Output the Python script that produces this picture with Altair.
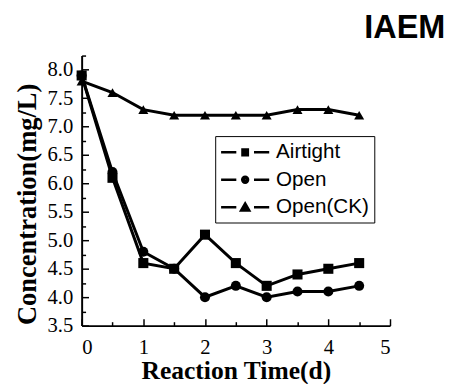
import altair as alt
import pandas as pd

# ---- data ----
time = [0, 0.5, 1, 1.5, 2, 2.5, 3, 3.5, 4, 4.5]
airtight = [7.9, 6.1, 4.6, 4.5, 5.1, 4.6, 4.2, 4.4, 4.5, 4.6]
open_air = [7.9, 6.2, 4.8, 4.5, 4.0, 4.2, 4.0, 4.1, 4.1, 4.2]
open_ck = [7.8, 7.6, 7.3, 7.2, 7.2, 7.2, 7.2, 7.3, 7.3, 7.2]
series_names = ["Airtight", "Open", "Open(CK)"]
marker_shapes = ["square", "circle", "triangle-up"]
x_major = [0, 1, 2, 3, 4, 5]
x_minor = [0.5, 1.5, 2.5, 3.5, 4.5]
y_major = [3.5, 4.0, 4.5, 5.0, 5.5, 6.0, 6.5, 7.0, 7.5, 8.0]
y_minor = [3.75, 4.25, 4.75, 5.25, 5.75, 6.25, 6.75, 7.25, 7.75, 8.25]
corner_label = ["IAEM"]

rows = []
for name, vals in zip(series_names, [airtight, open_air, open_ck]):
    for t, v in zip(time, vals):
        rows.append({"t": t, "c": v, "series": name})
df = pd.DataFrame(rows)

W, H = 314, 275
SERIF = "Liberation Serif"
SANS = "Liberation Sans"

xscale = alt.Scale(domain=[0, 5], nice=False, zero=False)
yscale = alt.Scale(domain=[3.5, 8.25], nice=False, zero=False)

base = alt.Chart(df)

# main axes: domain lines, labels, titles
x_main = alt.Axis(orient="bottom", values=x_major, format="d", domainColor="black", domainWidth=2,
                  ticks=False, tickSize=0, labelPadding=11, labelFont=SERIF, labelFontSize=21,
                  labelFontWeight="normal", labelColor="black", grid=False,
                  title="Reaction Time(d)", titleFont=SERIF,
                  titleFontSize=26, titleFontWeight="bold", titleColor="black",
                  titleX=W / 2, titleY=46, titleAlign="center", titleBaseline="middle")
y_main = alt.Axis(orient="left", values=y_major, format=".1f", domainColor="black", domainWidth=2,
                  ticks=False, tickSize=0, labelPadding=9, labelFont=SERIF, labelFontSize=21,
                  labelFontWeight="normal", labelColor="black", grid=False,
                  title="Concentration(mg/L)", titleFont=SERIF,
                  titleFontSize=27, titleFontWeight="bold", titleColor="black",
                  titleX=-55, titleY=151, titleAngle=-90, titleAlign="center",
                  titleBaseline="middle")

lines = base.mark_line(color="black", strokeWidth=3).encode(
    x=alt.X("t:Q", scale=xscale, axis=x_main),
    y=alt.Y("c:Q", scale=yscale, axis=y_main),
    detail="series:N",
)

# inward major ticks
x_maj_ticks = alt.Axis(orient="bottom", values=x_major, offset=-7, domain=False, labels=False,
                       ticks=True, tickSize=7, tickWidth=1.5, tickColor="black", grid=False, title=None)
y_maj_ticks = alt.Axis(orient="left", values=y_major, offset=-7, domain=False, labels=False,
                       ticks=True, tickSize=7, tickWidth=1.5, tickColor="black", grid=False, title=None)

point_layers = []
for i, (name, shp) in enumerate(zip(series_names, marker_shapes)):
    xa = x_maj_ticks if i == 0 else None
    ya = y_maj_ticks if i == 0 else None
    point_layers.append(
        base.transform_filter(alt.datum.series == name).mark_point(
            filled=True, color="black", size=105, opacity=1, shape=shp
        ).encode(
            x=alt.X("t:Q", scale=xscale, axis=xa),
            y=alt.Y("c:Q", scale=yscale, axis=ya),
        )
    )

# inward minor ticks + legend (no data drawn)
x_min_ticks = alt.Axis(orient="bottom", values=x_minor, offset=-4, domain=False, labels=False,
                       ticks=True, tickSize=4, tickWidth=1.5, tickColor="black", grid=False, title=None)
y_min_ticks = alt.Axis(orient="left", values=y_minor, offset=-4, domain=False, labels=False,
                       ticks=True, tickSize=4, tickWidth=1.5, tickColor="black", grid=False, title=None)

# legend symbols: line - marker - line, markers built from strokes so they look solid
SEG = "M-2.45,0H-0.9M0.9,0H2.45"
leg_paths = [
    SEG + "M-0.4,-0.3H0.4M-0.4,-0.1H0.4M-0.4,0.1H0.4M-0.4,0.3H0.4",
    SEG + "M0.3,0A0.3,0.3,0,1,1,-0.3,0A0.3,0.3,0,1,1,0.3,0Z"
          "M0.1,0A0.1,0.1,0,1,1,-0.1,0A0.1,0.1,0,1,1,0.1,0Z",
    SEG + "M0,-0.4L0.42,0.33L-0.42,0.33ZM0,-0.12L0.17,0.18L-0.17,0.18ZM-0.05,0.1H0.05",
]
legend_layer = base.transform_filter("datum.t < -100").mark_point(
    filled=False, color="black", size=400, strokeWidth=2.5
).encode(
    x=alt.X("t:Q", scale=xscale, axis=x_min_ticks),
    y=alt.Y("c:Q", scale=yscale, axis=y_min_ticks),
    shape=alt.Shape("series:N", scale=alt.Scale(domain=series_names, range=leg_paths),
                    legend=alt.Legend(orient="none", legendX=136, legendY=82, title=None,
                                      strokeColor="black", padding=5, symbolOffset=14,
                                      labelOffset=20, rowPadding=6, labelFont=SANS,
                                      labelFontSize=21, labelColor="black", symbolSize=400,
                                      symbolStrokeWidth=2.5, symbolStrokeColor="black",
                                      symbolOpacity=1)),
)

corner = alt.Chart(pd.DataFrame({"label": corner_label})).mark_text(
    font=SANS, fontSize=33, fontWeight="bold", color="black", align="center", baseline="middle"
).encode(x=alt.value(329), y=alt.value(-28), text="label:N")

chart = alt.layer(lines, *point_layers, legend_layer, corner).resolve_axis(
    x="independent", y="independent"
).properties(
    width=W, height=H,
    padding={"left": 75, "top": 45, "right": 56, "bottom": 56},
    autosize=alt.AutoSizeParams(type="none"),
).configure_view(stroke=None).configure_axis(
    labelFont=SERIF, titleFont=SERIF
)

chart.save("out.html", embed_options={"renderer": "svg", "actions": False})
